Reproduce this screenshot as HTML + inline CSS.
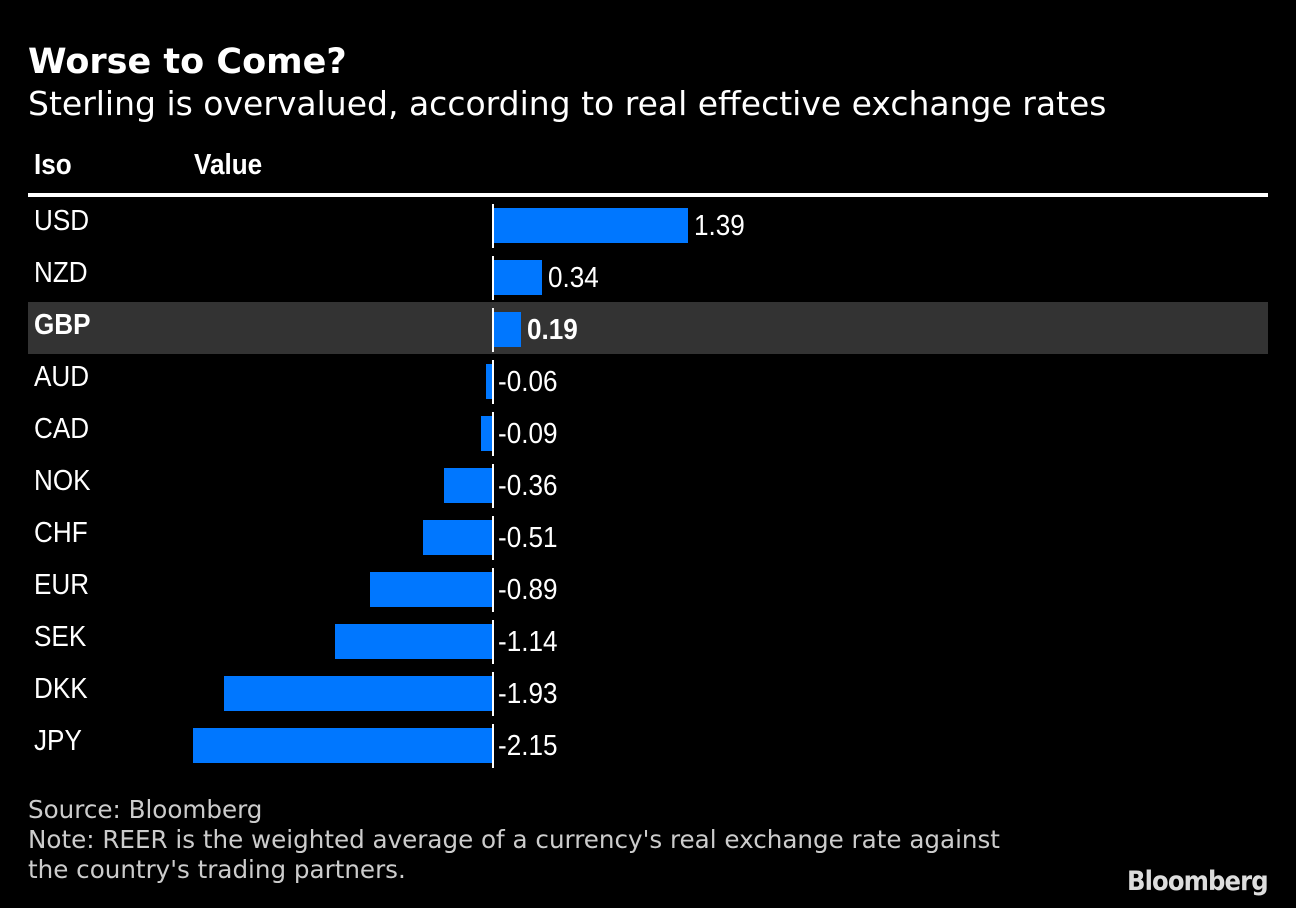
<!DOCTYPE html>
<html><head><meta charset="utf-8"><style>
body{margin:0;background:#000;width:1296px;height:908px;overflow:hidden;position:relative;color:#fff}
.t{position:absolute;white-space:nowrap}
.dj{font-family:"DejaVu Sans",sans-serif}
.nr{font-family:"Liberation Sans",sans-serif;transform:scaleX(0.9);transform-origin:0 0}
</style></head><body>
<div class="t dj" style="left:28px;top:42px;font-size:35px;font-weight:bold">Worse to Come?</div>
<div class="t dj" style="left:28px;top:84px;font-size:33px">Sterling is overvalued, according to real effective exchange rates</div>
<div class="t nr" style="left:34px;top:149px;font-size:29px;font-weight:bold">Iso</div>
<div class="t nr" style="left:194px;top:149px;font-size:29px;font-weight:bold">Value</div>
<div style="position:absolute;left:28px;top:193px;width:1240px;height:4px;background:#fff"></div>
<div id="rows"></div>
<div class="t dj" style="left:28px;top:795px;font-size:24.6px;color:#ccc;line-height:30px">Source: Bloomberg<br>Note: REER is the weighted average of a currency's real exchange rate against<br>the country's trading partners.</div>
<div class="t dj" style="left:1127px;top:866px;font-size:27px;font-weight:bold;color:#ddd;letter-spacing:-1px;transform:scaleX(0.9);transform-origin:0 0">Bloomberg</div>
<script>
const categories=["USD","NZD","GBP","AUD","CAD","NOK","CHF","EUR","SEK","DKK","JPY"];
const values=[1.39,0.34,0.19,-0.06,-0.09,-0.36,-0.51,-0.89,-1.14,-1.93,-2.15];
const labels=["1.39","0.34","0.19","-0.06","-0.09","-0.36","-0.51","-0.89","-1.14","-1.93","-2.15"];
const highlight="GBP";
const zeroX=494, scale=139.8, top0=198, rowH=52;
const x=v=>zeroX+v*scale;
const root=document.getElementById('rows');
let h='';
categories.forEach((c,i)=>{
  const t=top0+i*rowH, v=values[i], hl=c===highlight;
  const fw=hl?'bold':'normal';
  if(hl)h+=`<div style="position:absolute;left:28px;top:${t}px;width:1240px;height:52px;background:#333"></div>`;
  h+=`<div class="t nr" style="left:34px;top:${t+7}px;font-size:29px;font-weight:${fw}">${c}</div>`;
  const l=Math.min(x(v),zeroX), w=Math.abs(x(v)-zeroX);
  h+=`<div style="position:absolute;left:${l}px;top:${t+10}px;width:${w}px;height:35px;background:#0077ff"></div>`;
  h+=`<div style="position:absolute;left:492px;top:${t+6}px;width:2px;height:44px;background:#fff"></div>`;
  const lx=v>=0?x(v)+6:zeroX+4;
  h+=`<div class="t nr" style="left:${lx}px;top:${t+12}px;font-size:29px;font-weight:${fw}">${labels[i]}</div>`;
});
root.innerHTML=h;
</script>
</body></html>
